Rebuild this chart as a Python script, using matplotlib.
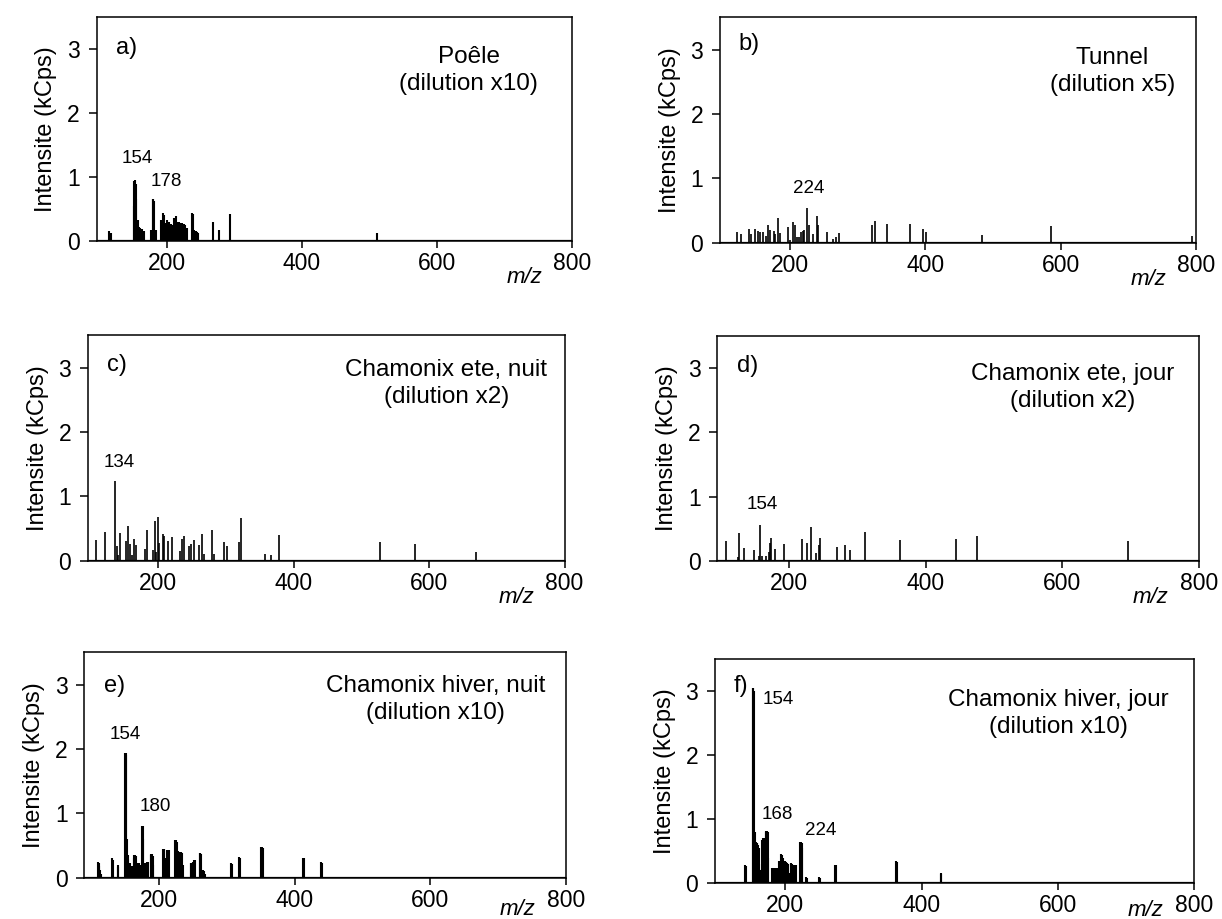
import matplotlib.pyplot as plt

plt.rcParams['font.family'] = ['Liberation Sans', 'DejaVu Sans']

# a) Poele (dilution x10)
mz_a = [115, 118, 151, 152, 153, 154, 155, 157, 159, 161, 163, 166, 176, 179, 180,
        181, 184, 192, 194, 196, 199, 201, 204, 206, 209, 211, 213, 215, 218, 221,
        223, 225, 227, 230, 237, 239, 241, 243, 245, 247, 269, 278, 293, 512]
int_a = [0.16, 0.12, 0.55, 0.93, 0.95, 0.88, 0.65, 0.32, 0.22, 0.20, 0.18, 0.15, 0.17, 0.65, 0.65,
         0.62, 0.17, 0.33, 0.43, 0.41, 0.27, 0.32, 0.30, 0.26, 0.24, 0.36, 0.39, 0.30, 0.30, 0.28,
         0.27, 0.26, 0.25, 0.20, 0.43, 0.42, 0.17, 0.15, 0.14, 0.12, 0.29, 0.17, 0.42, 0.12]

# b) Tunnel (dilution x5)
mz_b = [122, 128, 139, 143, 148, 153, 156, 160, 165, 168, 171, 176, 178, 182, 186,
        197, 200, 204, 208, 211, 214, 217, 219, 221, 225, 228, 234, 240, 242, 255,
        263, 268, 272, 321, 326, 344, 378, 397, 401, 483, 586, 794]
int_b = [0.17, 0.135, 0.21, 0.135, 0.21, 0.18, 0.16, 0.17, 0.10, 0.28, 0.20, 0.18, 0.135, 0.39, 0.15,
         0.25, 0.04, 0.32, 0.28, 0.09, 0.09, 0.17, 0.18, 0.20, 0.54, 0.27, 0.135, 0.42, 0.27, 0.17,
         0.05, 0.09, 0.15, 0.27, 0.34, 0.29, 0.29, 0.21, 0.17, 0.12, 0.26, 0.11]

# c) Chamonix ete, nuit (dilution x2)
mz_c = [109, 122, 136, 139, 141, 144, 152, 155, 158, 161, 164, 167, 181, 184, 192,
        195, 197, 200, 202, 207, 209, 215, 221, 233, 236, 238, 245, 249, 253, 260,
        265, 268, 280, 282, 298, 301, 320, 323, 358, 367, 378, 527, 579, 669]
int_c = [0.32, 0.44, 1.23, 0.22, 0.09, 0.43, 0.30, 0.54, 0.26, 0.09, 0.33, 0.245, 0.18, 0.48, 0.16,
         0.61, 0.14, 0.68, 0.28, 0.42, 0.385, 0.30, 0.36, 0.15, 0.33, 0.39, 0.22, 0.255, 0.32, 0.245,
         0.41, 0.10, 0.48, 0.11, 0.29, 0.23, 0.29, 0.66, 0.10, 0.08, 0.40, 0.29, 0.26, 0.13]

# d) Chamonix ete, jour (dilution x2)
mz_d = [108, 125, 127, 134, 149, 156, 158, 160, 166, 170, 172, 174, 180, 193,
        219, 227, 232, 239, 244, 246, 270, 282, 290, 311, 363, 445, 475, 697]
int_d = [0.30, 0.05, 0.43, 0.19, 0.17, 0.07, 0.55, 0.07, 0.07, 0.14, 0.27, 0.35, 0.18, 0.255,
         0.33, 0.27, 0.52, 0.125, 0.245, 0.36, 0.21, 0.245, 0.16, 0.45, 0.32, 0.34, 0.39, 0.30]

# e) Chamonix hiver, nuit (dilution x10)
mz_e = [110, 111, 112, 113, 114, 131, 132, 139, 140,
        150, 151, 152, 153, 154, 155, 157, 159, 161,
        163, 164, 165, 166, 168, 170, 172, 175, 176, 177,
        180, 182, 184, 188, 189, 190, 191, 192,
        206, 207, 208, 209, 212, 213, 214, 215,
        224, 225, 226, 228, 229, 230, 232, 233, 234, 235,
        247, 248, 251, 252, 253, 260, 261, 262, 265, 266, 268,
        307, 308, 318, 319, 351, 352, 353, 413, 414, 439, 440]
int_e = [0.245, 0.22, 0.18, 0.12, 0.06, 0.31, 0.28, 0.19, 0.17,
         1.94, 1.94, 1.90, 0.60, 0.35, 0.29, 0.23, 0.18, 0.18,
         0.30, 0.35, 0.35, 0.33, 0.22, 0.23, 0.20, 0.80, 0.80, 0.60,
         0.22, 0.25, 0.25, 0.36, 0.35, 0.36, 0.34, 0.20,
         0.45, 0.45, 0.44, 0.30, 0.43, 0.43, 0.42, 0.43,
         0.58, 0.58, 0.55, 0.42, 0.28, 0.40, 0.40, 0.40, 0.38, 0.20,
         0.23, 0.22, 0.25, 0.27, 0.27, 0.38, 0.38, 0.37, 0.12, 0.10, 0.06,
         0.22, 0.21, 0.32, 0.31, 0.48, 0.48, 0.46, 0.31, 0.30, 0.245, 0.23]

# f) Chamonix hiver, jour (dilution x10)
mz_f = [141, 142, 152, 153, 154, 155, 157, 158, 159,
        160, 161, 162, 163, 164, 165, 166, 167, 168, 169, 170,
        171, 172, 173, 174, 175, 180, 182, 184, 186, 188,
        191, 192, 194, 195, 196, 200, 201, 202, 204,
        206, 208, 209, 210, 212, 214, 216,
        222, 223, 224, 225, 231, 232, 250, 251,
        273, 274, 363, 364, 428, 429]
int_f = [0.29, 0.27, 3.05, 3.05, 3.00, 0.80, 0.65, 0.63, 0.62,
         0.60, 0.55, 0.30, 0.21, 0.20, 0.22, 0.68, 0.70, 0.70, 0.71, 0.70,
         0.80, 0.82, 0.82, 0.80, 0.40, 0.24, 0.24, 0.23, 0.24, 0.23,
         0.34, 0.33, 0.46, 0.44, 0.40, 0.34, 0.33, 0.32, 0.30,
         0.16, 0.31, 0.30, 0.30, 0.29, 0.28, 0.28,
         0.64, 0.64, 0.62, 0.55, 0.10, 0.08, 0.09, 0.08,
         0.29, 0.28, 0.34, 0.33, 0.16, 0.14]

letters = ["a)", "b)", "c)", "d)", "e)", "f)"]
titles = ["Poêle\n(dilution x10)", "Tunnel\n(dilution x5)",
          "Chamonix ete, nuit\n(dilution x2)", "Chamonix ete, jour\n(dilution x2)",
          "Chamonix hiver, nuit\n(dilution x10)", "Chamonix hiver, jour\n(dilution x10)"]

# annotated peaks: text, x (m/z), y (kCps)
peaks_a = [("154", 157, 1.28), ("178", 199, 0.93)]
peaks_b = [("224", 228, 0.84)]
peaks_c = [("134", 143, 1.53)]
peaks_d = [("154", 161, 0.875)]
peaks_e = [("154", 150, 2.22), ("180", 194, 1.10)]
peaks_f = [("154", 190, 2.87), ("168", 188, 1.07), ("224", 252, 0.82)]


def draw_panel(ax, mz, intensity, letter, title, peaks, lw, xmin, title_pos, letter_y, mz_y=-0.165):
    ax.vlines(mz, 0, intensity, color='black', linewidth=lw)
    ax.axhline(0, color='black', linewidth=1.6)
    ax.set_xlim(xmin, 800)
    ax.set_ylim(0, 3.5)
    ax.set_xticks([200, 400, 600, 800])
    ax.set_yticks([0, 1, 2, 3])
    ax.tick_params(axis='both', direction='out', labelsize=16.5, width=1.1, color='black')
    ax.tick_params(axis='y', length=6, pad=6)
    ax.tick_params(axis='x', length=5, pad=3)
    for spine in ax.spines.values():
        spine.set_linewidth(1.1)
    ax.set_ylabel("Intensite (kCps)", fontsize=17, labelpad=7)

    ax.text(0.04, letter_y, letter, transform=ax.transAxes, fontsize=17, ha='left', va='center')
    ax.text(title_pos[0], title_pos[1], title, transform=ax.transAxes, fontsize=17.5,
            ha='center', va='center', linespacing=1.3)
    ax.text(0.9, mz_y, "m/z", transform=ax.transAxes, fontsize=16, style='italic',
            ha='center', va='center')
    for label, x, y in peaks:
        ax.text(x, y, label, fontsize=13.5, ha='center', va='center')


fig = plt.figure(figsize=(12.22, 9.19), dpi=100)

ax_a = fig.add_axes([0.079, 0.738, 0.389, 0.244])
ax_b = fig.add_axes([0.589, 0.736, 0.390, 0.245])
ax_c = fig.add_axes([0.072, 0.390, 0.390, 0.245])
ax_d = fig.add_axes([0.587, 0.390, 0.394, 0.244])
ax_e = fig.add_axes([0.069, 0.045, 0.394, 0.245])
ax_f = fig.add_axes([0.585, 0.039, 0.392, 0.244])

draw_panel(ax_a, mz_a, int_a, letters[0], titles[0], peaks_a, 1.5, 96, (0.783, 0.76), 0.86)
draw_panel(ax_b, mz_b, int_b, letters[1], titles[1], peaks_b, 1.2, 96.5, (0.824, 0.76), 0.88)
draw_panel(ax_c, mz_c, int_c, letters[2], titles[2], peaks_c, 1.2, 96.5, (0.752, 0.785), 0.87)
draw_panel(ax_d, mz_d, int_d, letters[3], titles[3], peaks_d, 1.2, 95, (0.739, 0.77), 0.87)
draw_panel(ax_e, mz_e, int_e, letters[4], titles[4], peaks_e, 1.5, 90, (0.73, 0.79), 0.85, -0.14)
draw_panel(ax_f, mz_f, int_f, letters[5], titles[5], peaks_f, 1.5, 96.5, (0.717, 0.756), 0.88, -0.12)

plt.savefig("out.png", dpi=100)
